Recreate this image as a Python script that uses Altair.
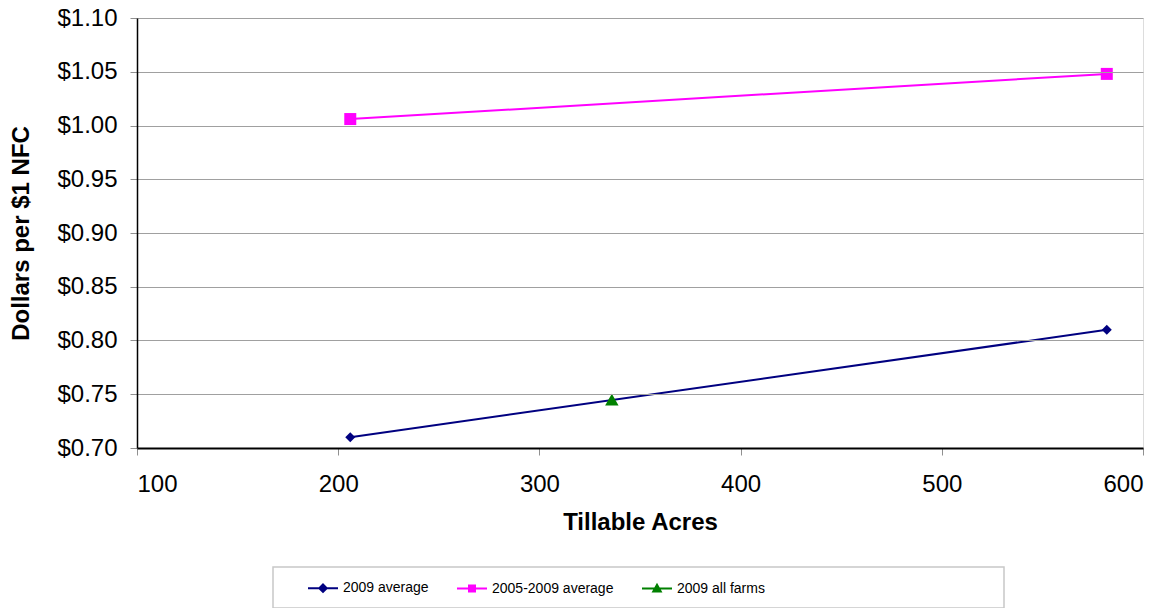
import altair as alt
import pandas as pd

series_names = ["2009 average", "2005-2009 average", "2009 all farms"]
series_colors = ["#000080", "#FF00FF", "#008000"]
point_shapes = ["diamond", "square", "triangle-up"]
point_sizes = [100, 144, 180]
legend_paths = [
    "M-3,0H3M0,-0.75L0.75,0L0,0.75L-0.75,0Z",
    "M-3,0H3M-0.6,-0.6H0.6V0.6H-0.6Z",
    "M-3,0H3M0,-0.75L0.75,0.6L-0.75,0.6Z",
]

avg2009_acres = [206, 582]
avg2009_vals = [0.710, 0.810]
avg0509_acres = [206, 582]
avg0509_vals = [1.006, 1.048]
allfarms_acres = [336]
allfarms_vals = [0.745]

x_ticks = [100, 200, 300, 400, 500, 600]
y_ticks = [0.70, 0.75, 0.80, 0.85, 0.90, 0.95, 1.00, 1.05, 1.10]

rows = []
for name, xs, ys in [
    (series_names[0], avg2009_acres, avg2009_vals),
    (series_names[1], avg0509_acres, avg0509_vals),
    (series_names[2], allfarms_acres, allfarms_vals),
]:
    for a, v in zip(xs, ys):
        rows.append({"series": name, "acres": a, "value": v})
df = pd.DataFrame(rows)

FONT = "Liberation Sans"

x_enc = alt.X(
    "acres:Q",
    scale=alt.Scale(domain=[100, 600], nice=False, zero=False),
    axis=alt.Axis(
        values=x_ticks, format="d", title="Tillable Acres", grid=False,
        domainColor="#000000", domainWidth=2, tickColor="#909090", tickSize=7,
        labelFont=FONT, labelFontSize=24, labelColor="#000000", labelPadding=17,
        titleFont=FONT, titleFontSize=24, titleFontWeight="bold", titleColor="#000000",
        titleX=503, titleY=74, titleBaseline="middle", zindex=1,
    ),
)
y_enc = alt.Y(
    "value:Q",
    scale=alt.Scale(domain=[0.70, 1.10], nice=False, zero=False),
    axis=alt.Axis(
        values=y_ticks, format="$.2f", title="Dollars per $1 NFC",
        grid=True, gridColor="#a0a0a0", gridWidth=1,
        domainColor="#000000", domainWidth=1.5, tickColor="#909090", tickSize=7,
        labelFont=FONT, labelFontSize=24, labelColor="#000000", labelPadding=13,
        titleFont=FONT, titleFontSize=24, titleFontWeight="bold", titleColor="#000000",
        titleX=-116, titleY=215, titleBaseline="middle", titleAngle=-90, zindex=1,
    ),
)

layers = []

# legend frame (decoration)
frame = alt.Chart(pd.DataFrame({"k": [0]})).mark_rect(
    fill="white", stroke="#c8c8c8", strokeWidth=1.5, clip=False
).encode(
    x=alt.value(136), x2=alt.value(867), y=alt.value(549), y2=alt.value(590)
)
layers.append(frame)

for name, col in zip(series_names, series_colors):
    sub = df[df["series"] == name]
    if len(sub) > 1:
        layers.append(
            alt.Chart(sub).mark_line(color=col, strokeWidth=2).encode(x=x_enc, y=y_enc)
        )
for name, col, shp, sz in zip(series_names, series_colors, point_shapes, point_sizes):
    sub = df[df["series"] == name]
    layers.append(
        alt.Chart(sub).mark_point(
            filled=True, shape=shp, size=sz, color=col, opacity=1
        ).encode(x=x_enc, y=y_enc)
    )

legend_def = alt.Legend(
    title=None, orient="none", legendX=179, legendY=563, direction="horizontal",
    labelFont=FONT, labelFontSize=14, labelColor="#000000", labelOffset=13, columnPadding=24,
    symbolSize=100, symbolStrokeWidth=2, padding=0, symbolOpacity=1,
)
legend_df = pd.DataFrame({"series": series_names})
legend_layer = alt.Chart(legend_df).mark_point(
    filled=True, size=100, opacity=1, strokeWidth=2, clip=True
).encode(
    x=alt.value(-300),
    y=alt.value(-300),
    color=alt.Color("series:N", scale=alt.Scale(domain=series_names, range=series_colors), legend=legend_def),
    stroke=alt.Stroke("series:N", scale=alt.Scale(domain=series_names, range=series_colors), legend=legend_def),
    shape=alt.Shape("series:N", scale=alt.Scale(domain=series_names, range=legend_paths), legend=legend_def),
)
layers.append(legend_layer)

chart = alt.layer(*layers).properties(
    width=1006, height=430,
    autosize=alt.AutoSizeParams(type="none"),
    padding={"left": 129, "top": 10, "right": 20, "bottom": 160},
).configure_view(
    stroke="#888888", strokeWidth=2
).configure(background="white")

chart.save("out.html", embed_options={"renderer": "svg", "actions": False})
